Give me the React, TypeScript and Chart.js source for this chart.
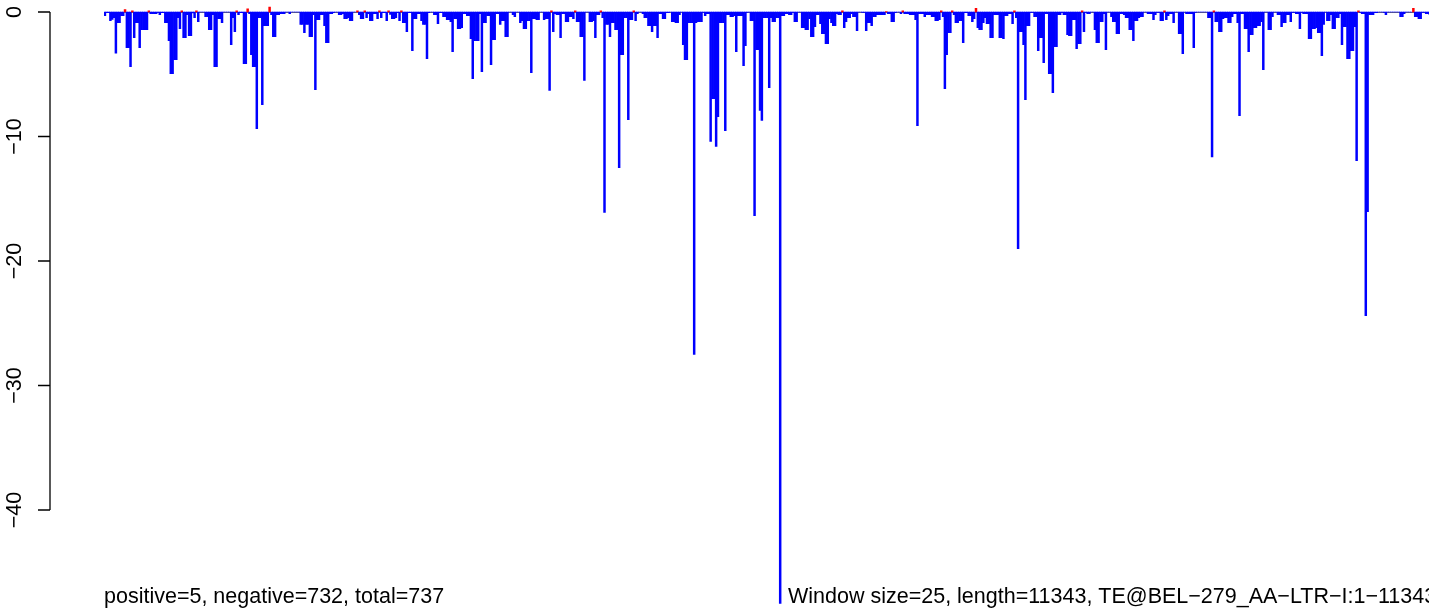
import React, { useEffect, useRef } from "react";
import { Chart, registerables } from "chart.js";

Chart.register(...registerables);

// Per-window score values (bins 1..737)
const scoresA = [
  -0.3,-0.05,-0.05,-0.7,-0.6,-0.45,-3.3,-0.86,-0.86,-0.3,
  -0.3,0.2,-2.86,-2.86,-4.4,0.1,-2.06,-0.86,-0.86,-2.86,
  -1.42,-1.42,-1.42,-1.42,0.1,-0.13,-0.13,-0.13,-0.13,-0.03,
  -0.21,-0.05,-0.05,-0.86,-0.86,-2.3,-4.95,-4.95,-3.83,-3.83,
  -0.45,-1.34,0.1,-2.06,-2.06,-0.21,-1.9,-1.9,-0.08,-0.45,
  0.1,-0.78,0,0,0,-0.37,-0.37,-1.42,-1.42,-0.21,
  -4.39,-4.39,-0.54,-0.54,-0.86,0,0,0,0,-2.62,
  -0.45,-1.58,0.1,-0.21,-0.05,-0.05,-4.15,-4.15,0.25,-0.13,
  -3.43,-4.39,-4.39,-9.37,-0.45,-0.45,-7.44,-1.1,-1.1,-1.1,
  0.4,-0.21,-1.98,-1.98,-0.21,-0.21,-0.13,-0.13,-0.13,0,
];
const scoresB = [
  0,-0.13,0,0,0,0,0,-1.0,-1.0,-1.66,
  -1.0,-1.0,-1.98,-1.98,-0.21,-6.24,-0.62,-0.62,-0.21,-0.21,
  -1.1,-2.46,-2.46,-0.13,-0.13,-0.05,0,0,-0.21,-0.21,
  -0.13,-0.54,-0.54,-0.45,-0.7,-0.7,0,0,0.1,-0.21,
  -0.54,-0.54,0.1,-0.45,-0.13,-0.7,-0.7,-0.13,-0.13,-0.54,
  0.1,-0.45,-0.05,-0.05,-0.7,0.1,-0.2,-0.54,-0.54,-0.45,
  -0.05,-0.7,0.1,-0.86,-0.86,-1.58,-0.05,-0.05,-3.1,-0.54,
  -0.54,-0.13,-0.13,-0.7,-1.0,-1.0,-3.75,-0.05,0,0,
  -0.21,-0.21,-0.94,-0.05,-0.05,-0.37,-0.37,-0.62,-0.62,-0.78,
  -3.19,-0.54,-0.54,-1.34,-1.34,-1.26,-0.13,-0.13,-0.3,-0.3,
];
const scoresC = [
  -2.14,-5.35,-2.3,-2.3,-2.3,-0.13,-4.8,-0.86,-0.86,-0.3,
  -0.3,-4.23,-2.22,-2.22,-0.13,-0.13,-1.0,-0.7,-0.7,-1.98,
  -1.98,0,0,-0.21,-0.37,0,0,-0.86,-0.7,-1.34,
  -1.34,-0.7,-0.7,-4.87,-0.54,-0.54,-0.62,-0.62,0,0,
  -0.62,-0.54,-0.54,-6.3,0.1,-1.58,-0.13,-0.21,-0.21,-2.06,
  -0.13,-0.13,-0.78,-0.78,-0.37,-0.37,-0.54,0.1,-0.78,-0.78,
  -1.98,-1.98,-5.5,0,0,-0.78,-0.78,-0.7,-2.06,-0.21,
  -0.21,0.1,-0.45,-16.1,-1.0,-1.0,-1.98,-0.86,-0.86,-1.42,
  -1.42,-12.5,-3.43,-3.43,-0.45,-0.45,-8.65,-0.62,-0.62,0.1,
  -0.7,-0.13,0,0,-0.13,-0.45,-0.45,-1.1,-1.1,-1.58,
];
const scoresD = [
  -1.1,-1.1,-2.06,-0.13,-0.13,-0.54,-0.54,-0.05,-0.05,0,
  -0.78,-0.78,-0.86,-0.86,-0.21,0,-2.62,-3.83,-3.83,-0.86,
  -0.86,-0.86,-27.5,-0.86,-0.78,-0.78,-0.78,-0.03,-0.3,-0.13,
  -0.13,-10.4,-6.96,-6.96,-10.8,-8.4,-0.86,-0.86,-0.86,-9.53,
  -0.21,-0.21,-0.37,-0.37,-0.3,-3.19,-0.3,-0.3,-0.3,-4.31,
  -2.7,-0.03,0,-0.7,-0.7,-16.36,-3.03,-3.03,-7.9,-8.7,
  -0.45,-0.45,-0.45,-6.08,-0.45,-0.78,-0.78,-0.45,-0.45,-47.5,
  -0.3,-0.3,-0.13,-0.13,-0.21,-0.21,-0.03,-0.78,-0.78,0,
  0,-1.26,-1.26,-1.42,-1.42,-0.54,-1.98,-1.98,-1.18,-0.21,
  -0.21,-0.94,-1.74,-1.74,-2.54,-2.54,-0.54,-0.86,-1.1,-1.1,
];
const scoresE = [
  -0.13,-0.21,-0.21,0.1,-1.26,-0.78,-0.45,-0.45,-0.13,-0.37,
  -0.37,-1.5,0,0,-0.03,-0.03,-1.5,-0.86,-0.86,-1.1,
  -0.37,-0.37,-0.21,-0.21,-0.21,-0.21,-0.21,0.03,-0.13,-0.13,
  -0.78,-0.78,-0.05,0,0,-0.13,0.1,-0.13,-0.13,-0.13,
  -0.21,-0.21,-0.21,-0.62,-9.13,-0.13,-0.13,-0.13,-0.37,-0.21,
  -0.21,-0.21,-0.37,-0.37,-0.7,-0.7,-0.62,0.1,-0.37,-6.16,
  -3.43,-1.66,-1.66,0.1,-0.21,-0.86,-0.86,-0.7,-0.7,-2.46,
  -0.05,-0.05,-0.3,-0.3,-0.78,-0.54,0.3,-1.26,-1.42,-1.42,
  -0.86,-0.45,-0.94,-0.94,-2.06,-2.06,-0.21,-0.21,-0.21,-2.06,
  -2.06,-2.14,-0.3,-0.3,-0.13,-0.13,-0.94,0.1,-0.45,-19.0,
];
const scoresF = [
  -1.58,-1.58,-2.62,-7.04,-1.1,-1.1,-0.03,-0.03,-0.37,-0.37,
  -3.1,-2.06,-2.06,-4.07,-0.13,-0.13,-4.95,-4.95,-6.48,-2.78,
  -2.78,-0.21,-0.21,-0.03,-0.21,-0.21,-1.82,-1.9,-1.9,-0.62,
  -0.62,-2.95,-2.54,-2.54,0.1,-1.58,-0.03,-0.13,-0.13,0,
  0,-1.42,-2.46,-2.46,-0.78,-0.78,-0.13,-3.03,0,0,
  -0.37,-0.78,-0.78,-1.74,-1.74,-0.13,-0.13,-0.21,-0.45,-0.45,
  -1.42,-1.42,-2.3,-0.7,-0.7,-0.45,-0.37,-0.37,0,0,
  -0.13,-0.13,-0.13,-0.62,-0.21,-0.03,-0.03,-0.7,-0.7,0.1,
  -0.62,-0.3,-0.13,-0.13,-0.86,0,0,-1.74,-1.74,-3.35,
  0,-0.13,-0.13,-0.13,-0.13,-2.86,-0.03,0,0,0,
];
const scoresG = [
  0,0,0,-0.45,-0.45,-11.65,0.1,-0.78,-0.78,-1.58,
  -1.58,-0.54,-0.45,-0.45,-0.86,-0.86,-0.37,-0.13,-0.13,-0.86,
  -8.33,-0.13,-0.13,-1.34,-1.34,-3.19,-1.82,-1.82,-1.26,-1.26,
  -1.1,-1.1,-0.78,-4.63,0,0,-1.42,-1.42,-0.37,0,
  0,-0.21,-0.21,-1.18,-0.86,-0.86,-0.21,-0.21,-0.78,-0.03,
  -0.03,-0.13,-0.13,-1.34,-0.03,-0.13,-0.13,-0.13,-2.14,-2.14,
  -1.34,-1.34,-1.26,-1.66,-1.66,-3.5,-1.0,0,-0.7,-0.7,
  -0.21,-1.34,-1.34,-0.45,-0.45,-0.13,-2.62,-1.18,-1.18,-3.75,
  -3.75,-3.1,-3.1,-1.18,-11.94,0.1,-0.03,-0.13,-0.13,-24.4,
  -16.04,-0.21,-0.21,-0.21,-0.05,-0.05,0,0,0,-0.03,
];
const scoresH = [
  -0.21,0,0,0,0,0,0,0,-0.37,-0.37,
  -0.13,0,0,0,0,0.3,-0.37,-0.37,-0.54,-0.54,
  -0.03,-0.03,-0.13,-0.13,-0.21,-0.3,-0.1,-0.5,-0.2,-0.8,
  -0.1,-0.4,-1.2,-0.2,-0.3,-0.6,-0.1,
];

const yTicks = [0, -10, -20, -30, -40];
const leftNote = "positive=5, negative=732, total=737";
const rightNote = "Window size=25, length=11343, TE@BEL\u2212279_AA\u2212LTR\u2212I:1\u221211343";

const scores = [
  ...scoresA, ...scoresB, ...scoresC, ...scoresD,
  ...scoresE, ...scoresF, ...scoresG, ...scoresH,
];
const bins = scores.map((_, i) => String(i + 1));

const FONT = "21.5px 'Liberation Sans', Arial, Helvetica, sans-serif";
const fmt = (v: number) => (v < 0 ? "\u2212" + Math.abs(v) : String(v));

const rStyle = {
  id: "rStyle",
  beforeDatasetsDraw(chart: any) {
    const { ctx, chartArea, scales } = chart;
    const y0 = Math.round(scales.y.getPixelForValue(0));
    ctx.save();
    ctx.strokeStyle = "#707070";
    ctx.lineWidth = 1;
    ctx.beginPath();
    ctx.moveTo(chartArea.left, y0 + 0.5);
    ctx.lineTo(chartArea.right, y0 + 0.5);
    ctx.stroke();
    ctx.restore();
  },
  afterDraw(chart: any) {
    const { ctx, chartArea, scales } = chart;
    const y = scales.y;
    const axisX = chartArea.left - 54;
    ctx.save();
    ctx.strokeStyle = "#000";
    ctx.fillStyle = "#000";
    ctx.lineWidth = 1.3;
    const yTop = y.getPixelForValue(yTicks[0]);
    const yBot = y.getPixelForValue(yTicks[yTicks.length - 1]);
    ctx.beginPath();
    ctx.moveTo(axisX, yTop);
    ctx.lineTo(axisX, yBot);
    for (const t of yTicks) {
      const py = y.getPixelForValue(t);
      ctx.moveTo(axisX, py);
      ctx.lineTo(axisX - 12, py);
    }
    ctx.stroke();
    ctx.font = FONT;
    ctx.textAlign = "center";
    ctx.textBaseline = "alphabetic";
    for (const t of yTicks) {
      const py = y.getPixelForValue(t);
      ctx.save();
      ctx.translate(axisX - 29, py);
      ctx.rotate(-Math.PI / 2);
      ctx.fillText(fmt(t), 0, 0);
      ctx.restore();
    }
    ctx.textAlign = "left";
    ctx.fillText(leftNote, chartArea.left, 603);
    ctx.fillText(rightNote, 788, 603);
    ctx.restore();
  },
};

export default function App() {
  const ref = useRef<HTMLCanvasElement | null>(null);
  useEffect(() => {
    if (!ref.current) return;
    const W = 1460;
    const pitch = 1.83;
    const padLeft = 104;
    const padRight = W - padLeft - scores.length * pitch;
    const pxPerUnit = 12.45;
    const zeroY = 12;
    const chart = new Chart(ref.current, {
      type: "bar",
      data: {
        labels: bins,
        datasets: [
          {
            data: scores,
            backgroundColor: scores.map((v) => (v > 0 ? "#ff0000" : "#0000ff")),
            borderWidth: 0,
            barPercentage: 1,
            categoryPercentage: 1,
          },
        ],
      },
      options: {
        animation: false,
        responsive: false,
        devicePixelRatio: 1,
        layout: { padding: { left: padLeft, right: padRight, top: 0, bottom: 0 } },
        plugins: { legend: { display: false }, tooltip: { enabled: false } },
        scales: {
          x: { display: false, grid: { display: false } },
          y: {
            display: false,
            min: (zeroY - 611) / pxPerUnit,
            max: zeroY / pxPerUnit,
            grid: { display: false },
          },
        },
      },
      plugins: [rStyle],
    });
    return () => chart.destroy();
  }, []);
  return (
    <div
      style={{
        position: "fixed",
        left: 0,
        top: 0,
        width: 1429,
        height: 611,
        overflow: "hidden",
        background: "#fff",
      }}
    >
      <canvas ref={ref} width={1460} height={611} style={{ display: "block" }} />
    </div>
  );
}
